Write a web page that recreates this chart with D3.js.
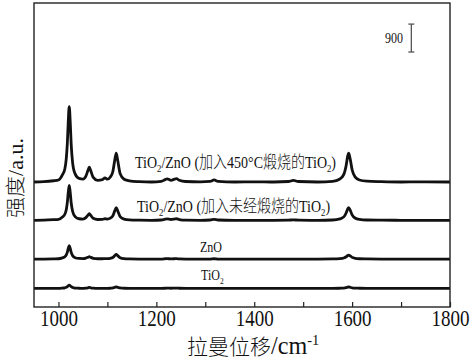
<!DOCTYPE html>
<html><head><meta charset="utf-8">
<script src="https://cdn.jsdelivr.net/npm/d3@7"></script>
<style>
html,body{margin:0;padding:0;background:#fff;}
svg{display:block;}
</style></head>
<body>
<svg id="chart" width="474" height="360"></svg>
<script>
// Raman shift sample positions (cm^-1)
const shifts = [950,970,990,1000,1008,1013,1016,1018,1020,1022,1024,1026,1029,1034,1042,1050,1056,1060,1063,1066,1071,1080,1090,1095,1100,1106,1111,1115,1118,1121,1126,1134,1145,1165,1190,1210,1218,1222,1230,1237,1241,1247,1260,1290,1310,1318,1326,1360,1400,1440,1470,1480,1490,1530,1560,1575,1583,1588,1591,1593,1596,1600,1606,1615,1630,1660,1700,1750,1800];

// Intensities above each spectrum's own baseline (a.u.)
const tio2ZnO450 = [0,10,40,65,230,420,760,1215,1940,2430,1940,1215,610,260,115,95,190,360,480,360,150,55,75,130,90,160,330,700,930,700,270,90,35,10,0,20,75,100,55,90,110,55,15,5,20,65,20,0,5,0,15,50,15,0,20,95,245,550,840,930,745,395,165,65,25,10,0,5,0];
const tio2ZnORaw = [0,5,20,30,105,195,350,560,900,1125,900,560,285,120,50,40,85,160,215,160,65,25,30,50,40,70,145,305,410,305,120,40,15,5,0,10,35,45,25,40,50,25,5,0,10,30,10,0,0,0,5,15,5,0,10,45,110,245,370,410,330,175,75,30,10,5,0,0,0];
const znO = [0,0,5,10,40,75,135,215,345,430,345,215,110,45,20,15,30,55,75,55,25,10,10,15,15,25,50,110,150,110,45,15,5,0,0,0,10,15,5,10,15,5,0,0,0,10,0,0,0,0,0,0,0,0,5,15,35,75,115,130,105,55,25,10,5,0,0,0,0];
const tiO2 = [0,0,0,0,10,20,35,55,85,105,85,55,30,10,5,0,10,20,30,20,10,0,0,0,0,5,15,35,45,35,15,5,0,0,0,0,5,10,5,10,10,5,0,0,0,0,0,0,0,0,0,0,0,0,0,5,10,25,40,45,35,20,10,5,0,0,0,0,0];

const seriesList = [tio2ZnO450, tio2ZnORaw, znO, tiO2];
const offsets = [4030, 2795, 1545, 600];   // stacking offsets (a.u.)

const xTicks = [1000,1100,1200,1300,1400,1500,1600,1700,1800];
const xTickLabels = [1000,1200,1400,1600,1800];
const scaleBarValue = 900;
const scaleBarTop = 9120;
const scaleBarShift = 1721;

const LATIN = "'Liberation Serif'";
const CJK = "'Noto Sans CJK SC'";
const isCJK = ch => /[\u2E80-\u9FFF\uF900-\uFAFF\uFF00-\uFFEF]/.test(ch);

const W = 474, H = 360;
const m = {left:34, right:24, top:3, bottom:53};
const svg = d3.select("#chart");
const x = d3.scaleLinear().domain([950,1800]).range([m.left, W - m.right]);
const y = d3.scaleLinear().domain([0,9800]).range([H - m.bottom, m.top]);
const stretch = 1.2;

// spectra
const line = d3.line().x(d => x(d[0])).y(d => y(d[1])).curve(d3.curveMonotoneX);
seriesList.forEach((s, i) => {
  const pts = shifts.map((sh, j) => [sh, s[j] + offsets[i]]);
  svg.append("path").attr("d", line(pts)).attr("fill","none")
     .attr("stroke","#111").attr("stroke-width",2.8).attr("stroke-linejoin","round");
});

// frame
svg.append("rect").attr("x", m.left).attr("y", m.top)
  .attr("width", W - m.left - m.right).attr("height", H - m.top - m.bottom)
  .attr("fill","none").attr("stroke","#222").attr("stroke-width",1.4);

// bottom axis
const ax = svg.append("g").attr("transform", `translate(0,${H - m.bottom})`)
  .call(d3.axisBottom(x).tickValues(xTicks).tickSize(-5).tickSizeOuter(0)
        .tickFormat(d => xTickLabels.includes(d) ? d : ""));
ax.attr("font-family", null).attr("font-size", null);
ax.select(".domain").remove();
ax.selectAll(".tick line").attr("stroke","#222").attr("stroke-width",1.2);
ax.selectAll(".tick text").attr("y",0).attr("dy",0)
  .attr("transform", `translate(0,18.5) scale(1,${stretch})`)
  .style("font-family", LATIN).style("font-size","19px").attr("fill","#111");

// append text runs, each run in a single font family
function runs(sel, str, size, dyFirst, latinScale) {
  let cur = "", curC = null, first = true;
  const flush = () => {
    if (!cur) return;
    const ts = sel.append("tspan").text(cur)
      .style("font-family", curC ? CJK : LATIN)
      .style("font-size", (curC ? size : size * (latinScale || 1)) + "px");
    if (curC) ts.style("font-weight", 300);
    if (first && dyFirst) ts.attr("dy", dyFirst);
    first = false; cur = "";
  };
  for (const ch of str) {
    const c = isCJK(ch);
    if (curC !== null && c !== curC) flush();
    curC = c; cur += ch;
  }
  flush();
}

function label(parts, xPos, yPos, size, st, latinScale) {
  const t = svg.append("text")
    .attr("transform", `translate(${xPos},${yPos}) scale(1,${st})`)
    .attr("fill", "#111");
  parts.forEach(p => {
    if (p.sub) runs(t, p.t, size*0.62, 3);
    else if (p.sup) runs(t, p.t, size*0.6*(latinScale||1), -size*0.45);
    else runs(t, p.t, size, p.back ? -3 : null, latinScale);
  });
  return t;
}

// axis labels
label([{t:"拉曼位移/cm"},{t:"-1", sup:true}], 187, 354, 21, 1.0, 1.15);

const yl = svg.append("text")
  .attr("transform", `translate(23,178) rotate(-90) scale(1.05,1)`)
  .attr("text-anchor","middle").attr("fill","#111");
runs(yl, "强度/a.u.", 20, null, 1.05);

// series labels
label([{t:"TiO"},{t:"2",sub:true},{t:"/ZnO (加入450°C煅烧的TiO",back:true},{t:"2",sub:true},{t:")",back:true}], 135, 168, 14, stretch);
label([{t:"TiO"},{t:"2",sub:true},{t:"/ZnO (加入未经煅烧的TiO",back:true},{t:"2",sub:true},{t:")",back:true}], 137, 212, 14, stretch);
label([{t:"ZnO"}], 200, 252, 12, stretch);
label([{t:"TiO"},{t:"2",sub:true}], 201, 280, 12, stretch);

// scale bar
const sbx = x(scaleBarShift);
const sb = svg.append("g").attr("stroke","#555").attr("stroke-width",1.3);
sb.append("line").attr("x1",sbx).attr("x2",sbx).attr("y1",y(scaleBarTop)).attr("y2",y(scaleBarTop - scaleBarValue));
sb.append("line").attr("x1",sbx-3).attr("x2",sbx+3).attr("y1",y(scaleBarTop)).attr("y2",y(scaleBarTop));
sb.append("line").attr("x1",sbx-3).attr("x2",sbx+3).attr("y1",y(scaleBarTop - scaleBarValue)).attr("y2",y(scaleBarTop - scaleBarValue));
label([{t:String(scaleBarValue)}], 385, 42.5, 12, stretch);
</script>
</body></html>
